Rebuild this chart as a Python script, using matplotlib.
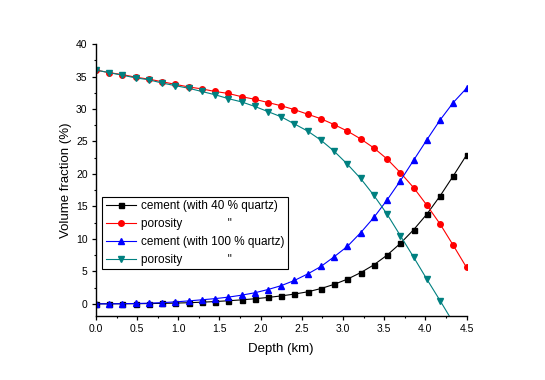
import numpy as np
import matplotlib
matplotlib.use("Agg")
import matplotlib.pyplot as plt
from matplotlib.ticker import MultipleLocator, FormatStrFormatter

plt.rcParams['font.family'] = ['Liberation Sans', 'DejaVu Sans']

# Depth samples (km): 29 evenly spaced points from 0 to 4.5
depth = np.linspace(0, 4.5, 29)

cement_40 = [0.0, 0.0, 0.01, 0.02, 0.04, 0.07, 0.11, 0.17, 0.25, 0.35, 0.47, 0.61,
             0.78, 0.98, 1.22, 1.5, 1.85, 2.35, 3.0, 3.8, 4.8, 6.0, 7.5, 9.3, 11.4,
             13.8, 16.6, 19.7, 22.9]
porosity_40 = [36.0, 35.6, 35.3, 34.9, 34.6, 34.2, 33.8, 33.4, 33.1, 32.7, 32.4, 31.9,
               31.5, 31.0, 30.5, 29.9, 29.2, 28.5, 27.6, 26.6, 25.4, 24.0, 22.3, 20.2,
               17.9, 15.2, 12.3, 9.0, 5.6]
cement_100 = [0.0, 0.0, 0.02, 0.05, 0.1, 0.18, 0.3, 0.45, 0.62, 0.8, 1.03, 1.33, 1.7,
              2.2, 2.8, 3.6, 4.6, 5.75, 7.25, 8.85, 10.95, 13.3, 16.0, 18.95, 22.1,
              25.25, 28.3, 31.0, 33.2]
porosity_100 = [36.0, 35.6, 35.2, 34.8, 34.5, 34.0, 33.6, 33.2, 32.7, 32.2, 31.6, 31.1,
                30.4, 29.6, 28.8, 27.7, 26.6, 25.2, 23.5, 21.5, 19.3, 16.7, 13.8, 10.5,
                7.2, 3.8, 0.5, -2.9]

labels = ['cement (with 40 % quartz)',
          'porosity              "',
          'cement (with 100 % quartz)',
          'porosity              "']

fig = plt.figure(figsize=(5.45, 3.8), dpi=100)
ax = fig.add_axes([0.176, 0.168, 0.680, 0.716])

ms = 3.6
lw = 0.8
ax.plot(depth, cement_40, color='black', marker='s', ms=ms, lw=lw, label=labels[0])
ax.plot(depth, porosity_40, color='red', marker='o', ms=ms + 0.4, lw=lw, label=labels[1])
ax.plot(depth, cement_100, color='blue', marker='^', ms=ms + 0.6, lw=lw, label=labels[2])
ax.plot(depth[:len(porosity_100)], porosity_100, color='#008080', marker='v', ms=ms + 0.6,
        lw=lw, label=labels[3])

ax.set_xlim(0, 4.5)
ax.set_ylim(-1.9, 40)
ax.xaxis.set_major_locator(MultipleLocator(0.5))
ax.xaxis.set_minor_locator(MultipleLocator(0.25))
ax.yaxis.set_major_locator(MultipleLocator(5))
ax.yaxis.set_minor_locator(MultipleLocator(2.5))
ax.xaxis.set_major_formatter(FormatStrFormatter('%.1f'))
ax.spines['top'].set_visible(False)
ax.spines['right'].set_visible(False)
for s in ('left', 'bottom'):
    ax.spines[s].set_linewidth(1.0)
ax.tick_params(which='major', direction='out', length=3, width=0.9, labelsize=7.5, pad=3)
ax.tick_params(which='minor', direction='out', length=1.5, width=0.8)

ax.set_xlabel('Depth (km)', fontsize=9.5, labelpad=6)
ax.set_ylabel('Volume fraction (%)', fontsize=9.5, labelpad=3)

leg = ax.legend(loc='lower left', bbox_to_anchor=(0.017, 0.172), fontsize=8.5,
                frameon=True, fancybox=False, edgecolor='black', framealpha=1,
                borderpad=0.3, labelspacing=0.5, handlelength=2.6, handletextpad=0.4,
                borderaxespad=0.0)
leg.get_frame().set_linewidth(0.8)

fig.savefig('out.png', dpi=100)
